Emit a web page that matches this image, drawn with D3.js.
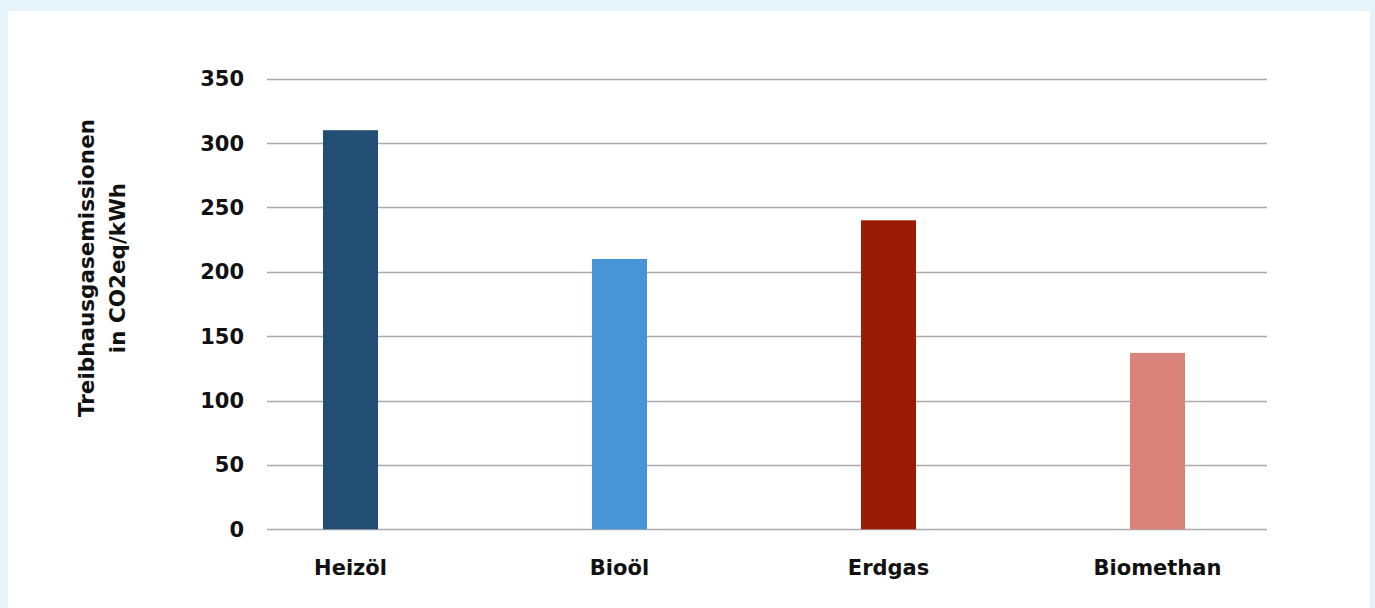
<!DOCTYPE html>
<html>
<head>
    <meta charset="utf-8">
    <title>Treibhausgasemissionen</title>
    <script src="https://cdn.jsdelivr.net/npm/d3@7"></script>
    <style>
        body { margin: 0; background: #e6f3fb; }
        .tick-label, .cat-label, .y-title {
            font-family: "DejaVu Sans", sans-serif;
            font-weight: bold;
            fill: #111;
        }
    </style>
</head>
<body>
<div id="chart"></div>
<script>
    // data
    var categories = ["Heizöl", "Bioöl", "Erdgas", "Biomethan"];
    var values = [310, 210, 240, 137];
    var barColors = ["#224e74", "#4795d6", "#9a1c07", "#d9837b"];
    var yTicks = [0, 50, 100, 150, 200, 250, 300, 350];
    var yTitleLines = ["Treibhausgasemissionen", "in CO2eq/kWh"];

    var svgWidth = 1375, svgHeight = 608;

    var svg = d3.select("#chart").append("svg")
        .attr("width", svgWidth)
        .attr("height", svgHeight)
        .style("display", "block");

    // light blue frame with white panel
    svg.append("rect")
        .attr("width", svgWidth).attr("height", svgHeight)
        .attr("fill", "#e6f3fb");
    svg.append("rect")
        .attr("x", 8).attr("y", 11)
        .attr("width", 1362).attr("height", svgHeight - 11)
        .attr("fill", "#fff");

    // scales
    var y = d3.scaleLinear().domain([0, 350]).range([529.3, 78.7]);
    var x = d3.scaleBand()
        .domain(categories)
        .range([216, 1292])
        .paddingInner(0.7955)
        .paddingOuter(0.7955 / 2);

    var gridLeft = 267, gridRight = 1267;

    // gridlines
    svg.append("g").selectAll("line")
        .data(yTicks)
        .enter().append("line")
            .attr("x1", gridLeft).attr("x2", gridRight)
            .attr("y1", d => Math.round(y(d)) + 0.5)
            .attr("y2", d => Math.round(y(d)) + 0.5)
            .attr("stroke", "#aaaaaa")
            .attr("stroke-width", 1.5);

    // y tick labels
    svg.append("g").selectAll("text")
        .data(yTicks)
        .enter().append("text")
            .classed("tick-label", true)
            .attr("x", 244)
            .attr("y", d => y(d))
            .attr("dy", "0.36em")
            .attr("text-anchor", "end")
            .style("font-size", "21px")
            .text(d => d);

    // bars
    svg.append("g").selectAll("rect")
        .data(categories)
        .enter().append("rect")
            .attr("x", d => x(d))
            .attr("width", x.bandwidth())
            .attr("y", (d, i) => y(values[i]))
            .attr("height", (d, i) => y(0) - y(values[i]))
            .attr("fill", (d, i) => barColors[i]);

    // category labels
    svg.append("g").selectAll("text")
        .data(categories)
        .enter().append("text")
            .classed("cat-label", true)
            .attr("x", d => x(d) + x.bandwidth() / 2)
            .attr("y", 575)
            .attr("text-anchor", "middle")
            .style("font-size", "21px")
            .text(d => d);

    // y axis title
    var title = svg.append("text")
        .classed("y-title", true)
        .attr("transform", "translate(94,268) rotate(-90)")
        .attr("text-anchor", "middle")
        .style("font-size", "21.5px");
    title.selectAll("tspan")
        .data(yTitleLines)
        .enter().append("tspan")
            .attr("x", 0)
            .attr("dy", (d, i) => i === 0 ? 0 : 31)
            .text(d => d);
</script>
</body>
</html>
